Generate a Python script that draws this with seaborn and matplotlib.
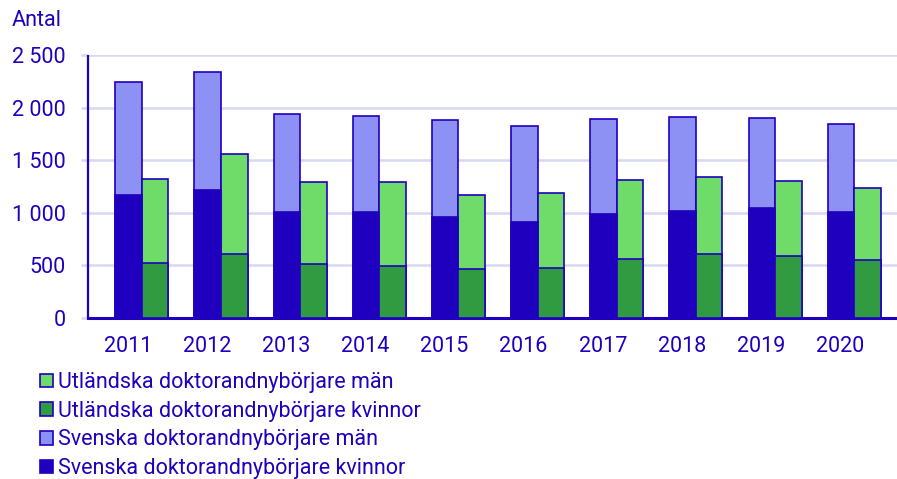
import matplotlib
matplotlib.use("Agg")
import matplotlib.pyplot as plt
import seaborn as sns
import pandas as pd
import numpy as np
from matplotlib.patches import Patch

years = ["2011", "2012", "2013", "2014", "2015", "2016", "2017", "2018", "2019", "2020"]
sv_kvinnor = [1168, 1215, 1009, 1003, 959, 908, 984, 1016, 1050, 1012]
sv_totalt = [2240, 2341, 1937, 1918, 1883, 1823, 1895, 1914, 1902, 1848]
utl_kvinnor = [525, 613, 509, 497, 468, 471, 557, 613, 591, 553]
utl_totalt = [1321, 1560, 1294, 1297, 1168, 1190, 1316, 1345, 1300, 1234]
y_ticks = [0, 500, 1000, 1500, 2000, 2500]
y_labels = ["0", "500", "1 000", "1 500", "2 000", "2 500"]

TXT = "#1E00BE"
DARK_BLUE = "#1F00BF"
LIGHT_PURPLE = "#8D91F4"
LIGHT_GREEN = "#6FDC6A"
DARK_GREEN = "#319B42"
GRID = "#D8D8F4"
FS = 15.5

sns.set_theme(style="white")
plt.rcParams["font.family"] = ["Roboto", "DejaVu Sans"]

df_tot = pd.DataFrame({
    "year": years * 2,
    "origin": ["Svenska"] * 10 + ["Utländska"] * 10,
    "value": sv_totalt + utl_totalt,
})
df_kv = pd.DataFrame({
    "year": years * 2,
    "origin": ["Svenska"] * 10 + ["Utländska"] * 10,
    "value": sv_kvinnor + utl_kvinnor,
})

fig = plt.figure(figsize=(8.97, 4.79), dpi=100)
ax = fig.add_axes([88 / 897, 1 - 318 / 479, 1 - 88 / 897, (318 - 55) / 479])

sns.barplot(data=df_tot, x="year", y="value", hue="origin", order=years,
            hue_order=["Svenska", "Utländska"], palette=[LIGHT_PURPLE, LIGHT_GREEN],
            saturation=1, width=0.67, gap=0, edgecolor=DARK_BLUE, linewidth=1.2,
            legend=False, errorbar=None, ax=ax, zorder=2)
sns.barplot(data=df_kv, x="year", y="value", hue="origin", order=years,
            hue_order=["Svenska", "Utländska"], palette=[DARK_BLUE, DARK_GREEN],
            saturation=1, width=0.67, gap=0, edgecolor=DARK_BLUE, linewidth=1.2,
            legend=False, errorbar=None, ax=ax, zorder=3)

ax.set_ylim(0, 2500)
ax.set_xlim(-0.68, 9.54)
ax.set_yticks(y_ticks, y_labels)
ax.set_xticks(np.arange(len(years)) - 0.177, years)
ax.set_xlabel("")
ax.set_ylabel("")
ax.yaxis.grid(True, color=GRID, linewidth=1.8, zorder=0)
ax.set_axisbelow(True)
for s in ["top", "right"]:
    ax.spines[s].set_visible(False)
ax.spines["left"].set_color(DARK_BLUE)
ax.spines["left"].set_linewidth(1.6)
ax.spines["left"].set_capstyle("butt")
ax.spines["bottom"].set_color(DARK_BLUE)
ax.spines["bottom"].set_linewidth(2.2)
ax.tick_params(axis="y", length=5, width=1.8, color=GRID, pad=11,
               labelsize=FS, labelcolor=TXT, left=True)
ax.tick_params(axis="x", length=0, pad=13, labelsize=FS, labelcolor=TXT)
yt = ax.yaxis.get_major_ticks()
for i in (0, len(yt) - 1):
    yt[i].tick1line.set_color(DARK_BLUE)

fig.text(12 / 897, 1 - 21 / 479, "Antal", color=TXT, fontsize=FS, va="center", ha="left")

handles = [
    Patch(facecolor=LIGHT_GREEN, edgecolor=DARK_BLUE, linewidth=1.2, label="Utländska doktorandnybörjare män"),
    Patch(facecolor=DARK_GREEN, edgecolor=DARK_BLUE, linewidth=1.2, label="Utländska doktorandnybörjare kvinnor"),
    Patch(facecolor=LIGHT_PURPLE, edgecolor=DARK_BLUE, linewidth=1.2, label="Svenska doktorandnybörjare män"),
    Patch(facecolor=DARK_BLUE, edgecolor=DARK_BLUE, linewidth=1.2, label="Svenska doktorandnybörjare kvinnor"),
]
leg = fig.legend(handles=handles, loc="upper left", bbox_to_anchor=(40 / 897, 1 - 372 / 479),
                 frameon=False, fontsize=FS, handlelength=0.6, handleheight=0.6,
                 handletextpad=0.25, labelspacing=0.36, borderaxespad=0, borderpad=0)
for t in leg.get_texts():
    t.set_color(TXT)

fig.savefig("out.png", dpi=100)
